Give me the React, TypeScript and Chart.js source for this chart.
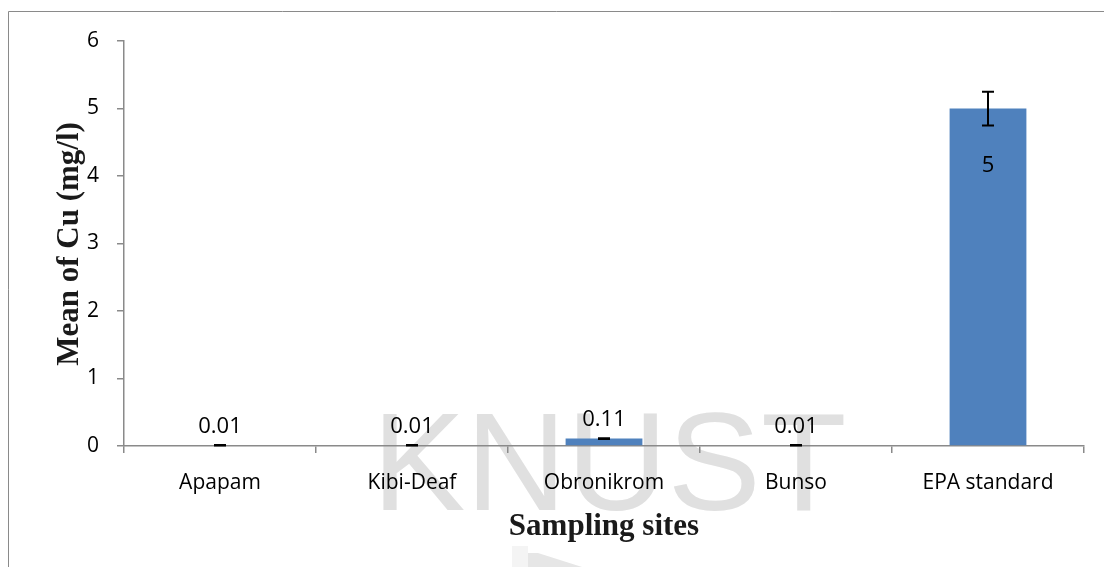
import React, { useEffect, useRef } from "react";
import { Chart, registerables } from "chart.js";

Chart.register(...registerables);

const categories = ["Apapam", "Kibi-Deaf", "Obronikrom", "Bunso", "EPA standard"];
const meanCu = [0.01, 0.01, 0.11, 0.01, 5];
const errorCu = [0.003, 0.003, 0.005, 0.003, 0.25];
const valueLabels = ["0.01", "0.01", "0.11", "0.01", "5"];
const yTicks = [0, 1, 2, 3, 4, 5, 6];
const yTitle = "Mean of Cu (mg/l)";
const xTitle = "Sampling sites";
const watermark = "KNUST";

const W = 1104;
const H = 567;
const AXIS_GRAY = "#8a8a8a";
const BAR_BLUE = "#4f81bd";
const TICK_FONT = '"Open Sans", "Noto Sans", sans-serif';
const TITLE_FONT = '"Liberation Serif", "DejaVu Serif", serif';

const backdropPlugin = {
  id: "backdrop",
  beforeDraw(chart: any) {
    const ctx = chart.ctx as CanvasRenderingContext2D;
    ctx.save();
    ctx.fillStyle = "#ffffff";
    ctx.fillRect(0, 0, W, H);
    ctx.fillStyle = "#e0e0e0";
    ctx.font = '140px "Liberation Sans", Arial, sans-serif';
    ctx.textBaseline = "alphabetic";
    ctx.textAlign = "left";
    ctx.fillText(watermark, 372, 510);
    ctx.fillStyle = "#f4f4f4";
    ctx.fillRect(512, 546, 16, 21);
    ctx.fillStyle = "#e6e6e6";
    ctx.beginPath();
    ctx.moveTo(528, 553);
    ctx.lineTo(538, 553);
    ctx.lineTo(582, H);
    ctx.lineTo(528, H);
    ctx.closePath();
    ctx.fill();
    ctx.strokeStyle = AXIS_GRAY;
    ctx.lineWidth = 1;
    ctx.beginPath();
    ctx.moveTo(8.5, H);
    ctx.lineTo(8.5, 11.5);
    ctx.lineTo(W, 11.5);
    ctx.stroke();
    ctx.restore();
  },
};

const marksPlugin = {
  id: "marks",
  afterDatasetsDraw(chart: any) {
    const ctx = chart.ctx as CanvasRenderingContext2D;
    const yScale = chart.scales.y;
    const meta = chart.getDatasetMeta(0);
    ctx.save();
    meta.data.forEach((el: any, i: number) => {
      const x = el.x;
      const yHi = yScale.getPixelForValue(meanCu[i] + errorCu[i]);
      const yLo = yScale.getPixelForValue(meanCu[i] - errorCu[i]);
      ctx.strokeStyle = "#000000";
      ctx.lineWidth = 2;
      ctx.beginPath();
      ctx.moveTo(x, yHi);
      ctx.lineTo(x, yLo);
      ctx.moveTo(x - 6, yHi);
      ctx.lineTo(x + 6, yHi);
      ctx.moveTo(x - 6, yLo);
      ctx.lineTo(x + 6, yLo);
      ctx.stroke();

      ctx.fillStyle = "#000000";
      ctx.font = `22px ${TICK_FONT}`;
      ctx.textAlign = "center";
      ctx.textBaseline = "middle";
      const barHeight = el.base - el.y;
      const ly = barHeight > 100 ? el.y + 57 : el.y - 19;
      ctx.fillText(valueLabels[i], x, ly);
    });
    ctx.restore();
  },
  afterDraw(chart: any) {
    const ctx = chart.ctx as CanvasRenderingContext2D;
    const area = chart.chartArea;
    ctx.save();
    ctx.fillStyle = "#1a1a1a";
    ctx.font = `bold 31px ${TITLE_FONT}`;
    ctx.textAlign = "center";
    ctx.textBaseline = "alphabetic";
    ctx.fillText(xTitle, (area.left + area.right) / 2, 535);
    ctx.translate(78, 244);
    ctx.rotate(-Math.PI / 2);
    ctx.fillText(yTitle, 0, 0);
    ctx.restore();
  },
};

export default function App() {
  const canvasRef = useRef<HTMLCanvasElement | null>(null);

  useEffect(() => {
    const canvas = canvasRef.current;
    if (!canvas) return;
    const chart = new Chart(canvas, {
      type: "bar",
      data: {
        labels: categories,
        datasets: [
          {
            data: meanCu,
            backgroundColor: BAR_BLUE,
            borderWidth: 0,
            categoryPercentage: 1,
            barPercentage: 0.4,
          },
        ],
      },
      options: {
        animation: false,
        responsive: false,
        devicePixelRatio: 1,
        layout: { padding: { left: 0, right: 20, top: 41, bottom: 0 } },
        plugins: {
          legend: { display: false },
          tooltip: { enabled: false },
        },
        scales: {
          x: {
            grid: {
              display: true,
              drawOnChartArea: false,
              drawTicks: true,
              tickLength: 7,
              color: AXIS_GRAY,
              lineWidth: 1.5,
              offset: true,
            },
            border: { display: true, color: AXIS_GRAY, width: 1.5 },
            ticks: {
              color: "#000000",
              font: { family: TICK_FONT, size: 21 },
              padding: 17,
              maxRotation: 0,
              autoSkip: false,
            },
            afterFit: (scale: any) => {
              scale.height = H - 446;
            },
          },
          y: {
            min: 0,
            max: 6,
            afterBuildTicks: (scale: any) => {
              scale.ticks = yTicks.map((v) => ({ value: v }));
            },
            grid: {
              display: true,
              drawOnChartArea: false,
              drawTicks: true,
              tickLength: 7,
              color: AXIS_GRAY,
              lineWidth: 1.5,
            },
            border: { display: true, color: AXIS_GRAY, width: 1.5 },
            ticks: {
              color: "#000000",
              font: { family: TICK_FONT, size: 21 },
              padding: 18,
            },
            afterFit: (scale: any) => {
              scale.width = 124;
            },
          },
        },
      },
      plugins: [backdropPlugin, marksPlugin],
    });
    return () => chart.destroy();
  }, []);

  return (
    <div
      style={{
        position: "fixed",
        left: 0,
        top: 0,
        width: W,
        height: H,
        background: "#ffffff",
        overflow: "hidden",
      }}
    >
      <canvas ref={canvasRef} width={W} height={H} style={{ display: "block", width: W, height: H }} />
    </div>
  );
}
